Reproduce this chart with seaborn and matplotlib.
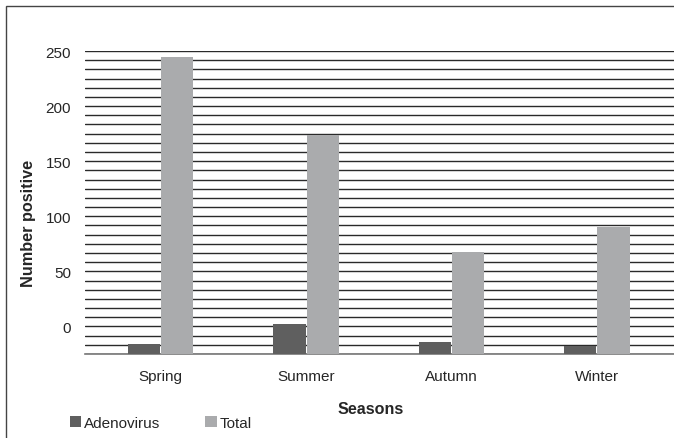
import matplotlib
matplotlib.use("Agg")
import matplotlib.pyplot as plt
from matplotlib.ticker import MultipleLocator
from matplotlib.patches import Rectangle, Patch
import seaborn as sns
import pandas as pd

# Data (values as read on the chart's y axis; bars rise from the axis floor)
seasons = ["Spring", "Summer", "Autumn", "Winter"]
adenovirus = [-16, 2, -14, -17.5]
total = [245, 174, 68, 90]
series_names = ["Adenovirus", "Total"]
y_ticks = [0, 50, 100, 150, 200, 250]
BASE = -25

colors = {"Adenovirus": "#5f5f5f", "Total": "#aaabad"}

df = pd.DataFrame({
    "Season": seasons * 2,
    "Series": [series_names[0]] * 4 + [series_names[1]] * 4,
    "Value": adenovirus + total,
})
df["Height"] = df["Value"] - BASE

sns.set_style("white")
plt.rcParams["font.family"] = ["Liberation Sans", "DejaVu Sans"]

fig = plt.figure(figsize=(6.74, 4.39), dpi=100)
ax = fig.add_axes([85 / 674, 1 - 355 / 439, 589 / 674, (355 - 52) / 439])

sns.barplot(data=df, x="Season", y="Height", hue="Series", order=seasons,
            hue_order=series_names, palette=colors, width=0.455, gap=0.03,
            bottom=BASE, ax=ax, legend=False, zorder=3, linewidth=0)

ax.set_ylim(BASE, 250)
ax.set_xlim(-0.52, 3.53)
ax.set_yticks(y_ticks)
ax.yaxis.set_minor_locator(MultipleLocator(25 / 3))
ax.grid(axis="y", which="both", color="#2a2a2a", linewidth=1.0, zorder=0)
ax.set_axisbelow(True)
ax.tick_params(axis="y", which="both", length=0, pad=10, labelsize=11)
ax.tick_params(axis="x", length=0, pad=11, labelsize=11)

for s in ["top", "left", "right"]:
    ax.spines[s].set_visible(False)
ax.spines["bottom"].set_color("#777777")
ax.spines["bottom"].set_linewidth(1.2)

ax.set_xlabel("Seasons", fontsize=11.6, fontweight="bold")
ax.set_ylabel("Number positive", fontsize=11.7, fontweight="bold")
ax.xaxis.set_label_coords((370.5 - 85) / 589, (355 - 402) / 303)
ax.yaxis.set_label_coords((36 - 85) / 589, (355 - 223) / 303)

handles = [Patch(facecolor=colors[n], edgecolor="none", label=n) for n in series_names]
fig.legend(handles=handles, loc="center left", bbox_to_anchor=(62 / 674, 1 - 424 / 439),
           ncol=2, frameon=False, fontsize=11, handlelength=0.75, handleheight=0.75,
           handletextpad=0.2, columnspacing=2.95, borderpad=0)

# outer frame (left and top edges visible)
fig.add_artist(Rectangle((5.5 / 674, -0.2), 2, 1.2 - 6.5 / 439,
                         transform=fig.transFigure, fill=False,
                         edgecolor="#444444", linewidth=1.0))

fig.savefig("out.png", dpi=100)
